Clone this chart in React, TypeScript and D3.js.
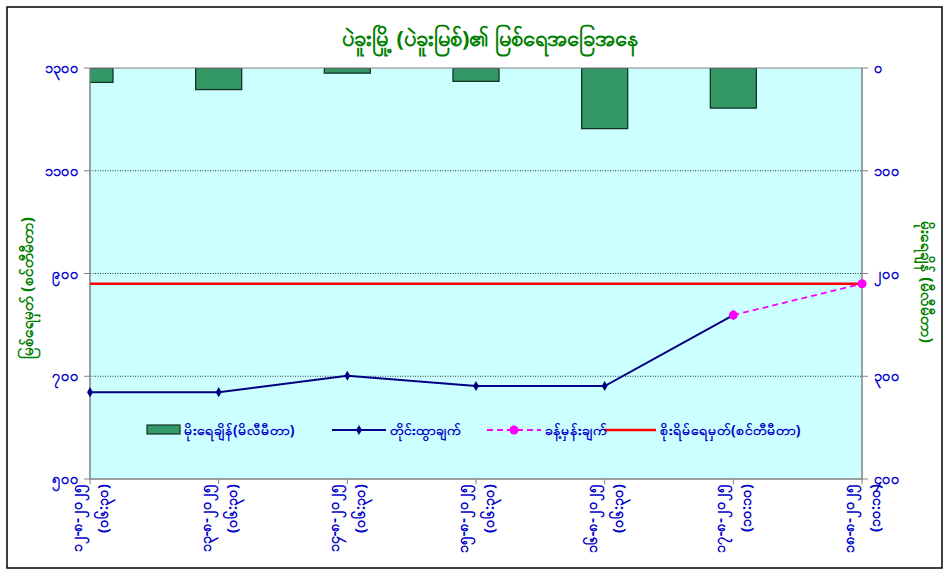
import React, { useEffect, useRef } from 'react';
import * as d3 from 'd3';

// categories (date + reading time)
const dates = ['၁၂-၈-၂၀၂၅', '၁၃-၈-၂၀၂၅', '၁၄-၈-၂၀၂၅', '၁၅-၈-၂၀၂၅', '၁၆-၈-၂၀၂၅', '၁၇-၈-၂၀၂၅', '၁၈-၈-၂၀၂၅'];
const times = ['(၀၆:၃၀)', '(၀၆:၃၀)', '(၀၆:၃၀)', '(၀၆:၃၀)', '(၀၆:၃၀)', '(၁၀:၁၀)', '(၁၀:၁၀)'];

// rainfall (mm, right axis) and water levels (cm, left axis)
const rainfall = [14, 21, 5, 13, 59, 39, 0];
const measured: (number | null)[] = [669, 669, 701, 681, 681, 819, null];
const forecast: (number | null)[] = [null, null, null, null, null, 819, 880];
const dangerLevel = 880;

const leftTicks = [500, 700, 900, 1100, 1300];
const leftTickLabels = ['၅၀၀', '၇၀၀', '၉၀၀', '၁၁၀၀', '၁၃၀၀'];
const rightTicks = [0, 100, 200, 300, 400];
const rightTickLabels = ['၀', '၁၀၀', '၂၀၀', '၃၀၀', '၄၀၀'];

const title = 'ပဲခူးမြို့ (ပဲခူးမြစ်)၏ မြစ်ရေအခြေအနေ';
const leftTitle = 'မြစ်ရေမှတ် (စင်တီမီတာ)';
const rightTitle = 'မိုးရေချိန် (မီလီမီတာ)';
const legendLabels = ['မိုးရေချိန်(မိလီမီတာ)', 'တိုင်းထွာချက်', 'ခန့်မှန်းချက်', 'စိုးရိမ်ရေမှတ်(စင်တီမီတာ)'];

const FONT = '"Noto Sans", "DejaVu Sans", sans-serif';
const BLUE = '#0000cc';
const GREEN = '#008000';

const Chart = () => {
  const ref = useRef<SVGSVGElement>(null);

  useEffect(() => {
    const svg = d3.select(ref.current);
    svg.selectAll('*').remove();

    const plot = { left: 90, right: 862, top: 68, bottom: 479 };
    const idx = dates.map((_, i) => i);

    const x = d3.scalePoint<number>().domain(idx).range([plot.left, plot.right]);
    const yL = d3.scaleLinear().domain([500, 1300]).range([plot.bottom, plot.top]);
    const yR = d3.scaleLinear().domain([0, 400]).range([plot.top, plot.bottom]);

    // outer frame
    svg.append('rect')
      .attr('x', 7).attr('y', 7).attr('width', 935).attr('height', 561)
      .attr('fill', 'white').attr('stroke', 'black').attr('stroke-width', 1.5);

    // title
    svg.append('text')
      .attr('x', 490).attr('y', 46)
      .attr('text-anchor', 'middle')
      .attr('font-family', FONT).attr('font-size', 22).attr('font-weight', 'bold')
      .attr('fill', GREEN)
      .text(title);

    // plot background
    svg.append('rect')
      .attr('x', plot.left).attr('y', plot.top)
      .attr('width', plot.right - plot.left).attr('height', plot.bottom - plot.top)
      .attr('fill', '#ccffff');

    svg.append('clipPath').attr('id', 'plotClip')
      .append('rect')
      .attr('x', plot.left).attr('y', plot.top)
      .attr('width', plot.right - plot.left).attr('height', plot.bottom - plot.top);

    // gridlines
    svg.append('g')
      .selectAll('line')
      .data([700, 900, 1100])
      .join('line')
      .attr('x1', plot.left).attr('x2', plot.right)
      .attr('y1', d => yL(d)).attr('y2', d => yL(d))
      .attr('stroke', '#000').attr('stroke-width', 0.8)
      .attr('stroke-dasharray', '1,1.5');

    // rainfall bars hanging from the top
    const barW = 46;
    svg.append('g')
      .attr('clip-path', 'url(#plotClip)')
      .selectAll('rect')
      .data(rainfall)
      .join('rect')
      .attr('x', (_, i) => x(i)! - barW / 2)
      .attr('y', yR(0))
      .attr('width', barW)
      .attr('height', d => yR(d) - yR(0))
      .attr('fill', '#339966')
      .attr('stroke', '#143322')
      .attr('stroke-width', d => (d > 0 ? 1.3 : 0));

    // axes frame lines
    const axisCol = '#808080';
    svg.append('line').attr('x1', plot.left).attr('x2', plot.left).attr('y1', plot.top).attr('y2', plot.bottom)
      .attr('stroke', axisCol).attr('stroke-width', 1.5);
    svg.append('line').attr('x1', plot.right).attr('x2', plot.right).attr('y1', plot.top).attr('y2', plot.bottom)
      .attr('stroke', axisCol).attr('stroke-width', 1.5);
    svg.append('line').attr('x1', plot.left).attr('x2', plot.right).attr('y1', plot.bottom).attr('y2', plot.bottom)
      .attr('stroke', axisCol).attr('stroke-width', 1.5);
    svg.append('line').attr('x1', plot.left).attr('x2', plot.right).attr('y1', plot.top).attr('y2', plot.top)
      .attr('stroke', axisCol).attr('stroke-width', 1);

    // left axis
    const lg = svg.append('g');
    lg.selectAll('line').data(leftTicks).join('line')
      .attr('x1', plot.left - 6).attr('x2', plot.left)
      .attr('y1', d => yL(d)).attr('y2', d => yL(d))
      .attr('stroke', axisCol);
    lg.selectAll('text').data(leftTicks).join('text')
      .attr('x', plot.left - 11).attr('y', d => yL(d) + 5)
      .attr('text-anchor', 'end')
      .attr('font-family', FONT).attr('font-size', 14.5).attr('font-weight', 'bold')
      .attr('fill', BLUE)
      .text((_, i) => leftTickLabels[i]);

    // right axis
    const rg = svg.append('g');
    rg.selectAll('line').data(rightTicks).join('line')
      .attr('x1', plot.right).attr('x2', plot.right + 6)
      .attr('y1', d => yR(d)).attr('y2', d => yR(d))
      .attr('stroke', axisCol);
    rg.selectAll('text').data(rightTicks).join('text')
      .attr('x', plot.right + 12).attr('y', d => yR(d) + 5)
      .attr('text-anchor', 'start')
      .attr('font-family', FONT).attr('font-size', 14.5).attr('font-weight', 'bold')
      .attr('fill', BLUE)
      .text((_, i) => rightTickLabels[i]);

    // axis titles
    svg.append('text')
      .attr('transform', 'translate(33,288) rotate(-90)')
      .attr('text-anchor', 'middle')
      .attr('font-family', FONT).attr('font-size', 15.5).attr('font-weight', 'bold')
      .attr('fill', GREEN)
      .text(leftTitle);
    svg.append('text')
      .attr('transform', 'translate(921,282) rotate(90)')
      .attr('text-anchor', 'middle')
      .attr('font-family', FONT).attr('font-size', 15.5).attr('font-weight', 'bold')
      .attr('fill', GREEN)
      .text(rightTitle);

    // x axis ticks + labels
    const xg = svg.append('g');
    xg.selectAll('line').data(idx).join('line')
      .attr('x1', d => x(d)!).attr('x2', d => x(d)!)
      .attr('y1', plot.bottom).attr('y2', plot.bottom + 5)
      .attr('stroke', axisCol);
    const xl = xg.selectAll('g.lab').data(idx).join('g')
      .attr('class', 'lab')
      .attr('transform', d => `translate(${x(d)},${plot.bottom + 5}) rotate(-90)`);
    xl.append('text')
      .attr('x', 0).attr('y', -8)
      .attr('text-anchor', 'end')
      .attr('font-family', FONT).attr('font-size', 14.5).attr('font-weight', 'bold')
      .attr('fill', BLUE)
      .text(d => dates[d]);
    xl.append('text')
      .attr('x', 0).attr('y', 18)
      .attr('text-anchor', 'end')
      .attr('font-family', FONT).attr('font-size', 14.5).attr('font-weight', 'bold')
      .attr('fill', BLUE)
      .text(d => times[d]);

    // danger level
    svg.append('line')
      .attr('x1', plot.left).attr('x2', plot.right)
      .attr('y1', yL(dangerLevel)).attr('y2', yL(dangerLevel))
      .attr('stroke', '#ff0000').attr('stroke-width', 2.5);

    // measured line
    const line = d3.line<number | null>()
      .defined(d => d != null)
      .x((_, i) => x(i)!)
      .y(d => yL(d as number));

    svg.append('path')
      .datum(measured)
      .attr('d', line)
      .attr('fill', 'none')
      .attr('stroke', '#000080')
      .attr('stroke-width', 2);

    const diamond = d3.symbol().type(d3.symbolDiamond).size(30);
    svg.append('g').selectAll('path')
      .data(idx.filter(i => measured[i] != null))
      .join('path')
      .attr('d', diamond)
      .attr('transform', i => `translate(${x(i)},${yL(measured[i] as number)})`)
      .attr('fill', '#000080');

    // forecast line
    svg.append('path')
      .datum(forecast)
      .attr('d', line)
      .attr('fill', 'none')
      .attr('stroke', '#ff00ff')
      .attr('stroke-width', 1.8)
      .attr('stroke-dasharray', '6,4');
    svg.append('g').selectAll('circle')
      .data(idx.filter(i => forecast[i] != null))
      .join('circle')
      .attr('cx', i => x(i)!)
      .attr('cy', i => yL(forecast[i] as number))
      .attr('r', 4.5)
      .attr('fill', '#ff00ff');

    // legend
    const leg = svg.append('g').attr('font-family', FONT).attr('font-size', 14).attr('font-weight', 'bold');
    const ly = 430;
    const legX = [147, 332, 487, 604];
    leg.append('rect').attr('x', legX[0]).attr('y', ly - 5).attr('width', 33).attr('height', 9)
      .attr('fill', '#339966').attr('stroke', '#143322').attr('stroke-width', 1.2);
    leg.append('line').attr('x1', legX[1]).attr('x2', legX[1] + 54).attr('y1', ly).attr('y2', ly)
      .attr('stroke', '#000080').attr('stroke-width', 2);
    leg.append('path').attr('d', diamond).attr('transform', `translate(${legX[1] + 27},${ly})`).attr('fill', '#000080');
    leg.append('line').attr('x1', legX[2]).attr('x2', legX[2] + 54).attr('y1', ly).attr('y2', ly)
      .attr('stroke', '#ff00ff').attr('stroke-width', 1.8).attr('stroke-dasharray', '6,4');
    leg.append('circle').attr('cx', legX[2] + 27).attr('cy', ly).attr('r', 4.5).attr('fill', '#ff00ff');
    leg.append('line').attr('x1', legX[3]).attr('x2', legX[3] + 52).attr('y1', ly).attr('y2', ly)
      .attr('stroke', '#ff0000').attr('stroke-width', 2.5);
    const textX = [184, 390, 545, 660];
    leg.selectAll('text').data(legendLabels).join('text')
      .attr('x', (_, i) => textX[i]).attr('y', ly + 5)
      .attr('fill', BLUE)
      .text(d => d);
  }, []);

  return <svg ref={ref} width={950} height={580} style={{ display: 'block' }} />;
};

export default function App() {
  return (
    <>
      <style>{'body{margin:0}'}</style>
      <Chart />
    </>
  );
}
